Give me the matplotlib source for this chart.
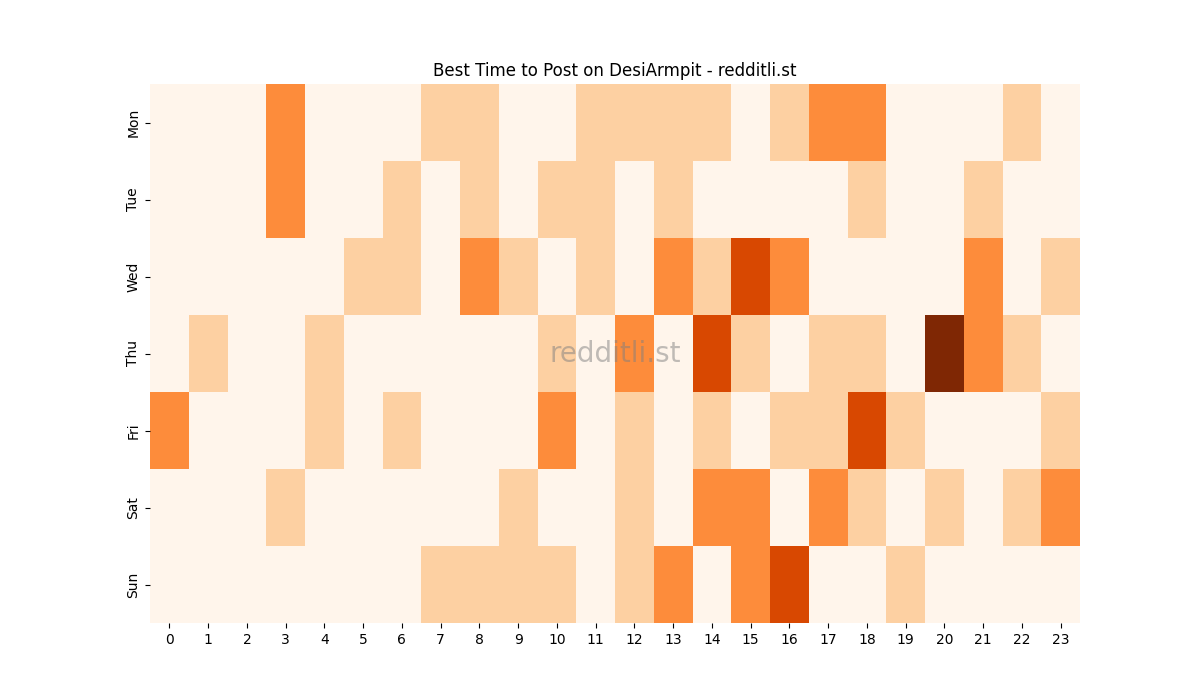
import matplotlib
matplotlib.use("Agg")
import matplotlib.pyplot as plt
import seaborn as sns
import pandas as pd

days = ['Mon', 'Tue', 'Wed', 'Thu', 'Fri', 'Sat', 'Sun']
hours = list(range(24))

# post counts per weekday / hour
mon = [0, 0, 0, 2, 0, 0, 0, 1, 1, 0, 0, 1, 1, 1, 1, 0, 1, 2, 2, 0, 0, 0, 1, 0]
tue = [0, 0, 0, 2, 0, 0, 1, 0, 1, 0, 1, 1, 0, 1, 0, 0, 0, 0, 1, 0, 0, 1, 0, 0]
wed = [0, 0, 0, 0, 0, 1, 1, 0, 2, 1, 0, 1, 0, 2, 1, 3, 2, 0, 0, 0, 0, 2, 0, 1]
thu = [0, 1, 0, 0, 1, 0, 0, 0, 0, 0, 1, 0, 2, 0, 3, 1, 0, 1, 1, 0, 4, 2, 1, 0]
fri = [2, 0, 0, 0, 1, 0, 1, 0, 0, 0, 2, 0, 1, 0, 1, 0, 1, 1, 3, 1, 0, 0, 0, 1]
sat = [0, 0, 0, 1, 0, 0, 0, 0, 0, 1, 0, 0, 1, 0, 2, 2, 0, 2, 1, 0, 1, 0, 1, 2]
sun = [0, 0, 0, 0, 0, 0, 0, 1, 1, 1, 1, 0, 1, 2, 0, 2, 3, 0, 0, 1, 0, 0, 0, 0]

df = pd.DataFrame([mon, tue, wed, thu, fri, sat, sun], index=days, columns=hours)

fig = plt.figure(figsize=(12, 7), dpi=100)
ax = sns.heatmap(df, cmap='Oranges', cbar=False)
ax.set_title('Best Time to Post on DesiArmpit - redditli.st')
ax.text(0.5, 0.5, 'redditli.st', transform=ax.transAxes, fontsize=20,
        color='gray', alpha=0.5, ha='center', va='center')

plt.savefig('out.png')
